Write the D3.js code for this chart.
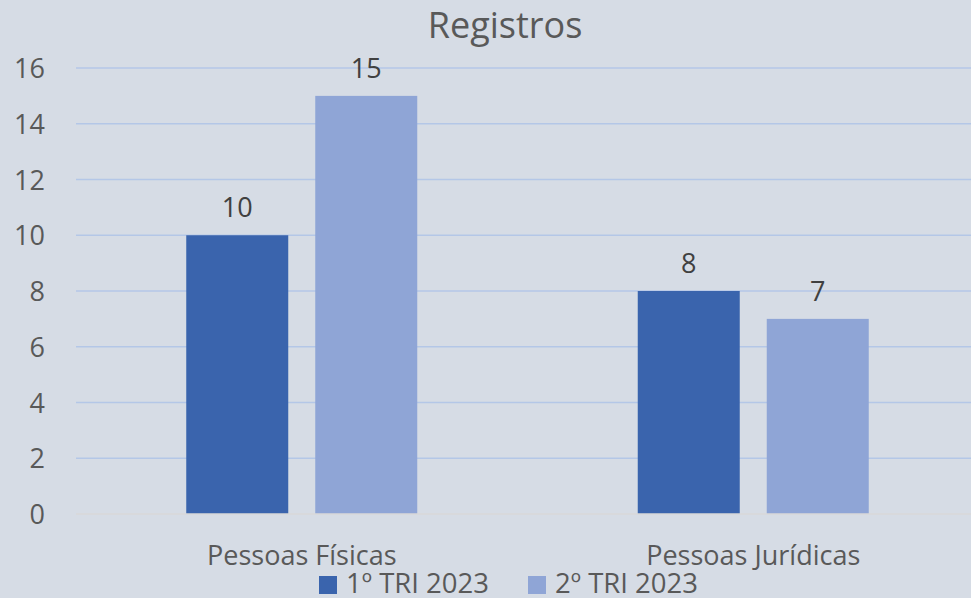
<!DOCTYPE html>
<html><head><meta charset="utf-8">
<script src="https://cdn.jsdelivr.net/npm/d3@7"></script>
<style>body{margin:0;background:#D6DCE5;} svg{display:block;}</style>
</head><body>
<svg id="c" width="971" height="598"></svg>
<script>
const categories = ["Pessoas Físicas", "Pessoas Jurídicas"];
const seriesNames = ["1º TRI 2023", "2º TRI 2023"];
const series1 = [10, 8];
const series2 = [15, 7];
const yTicks = [0, 2, 4, 6, 8, 10, 12, 14, 16];
const title = "Registros";
const colors = ["#3A64AD", "#8FA5D6"];

const font = "'Open Sans', sans-serif";
const svg = d3.select("#c");
svg.append("rect").attr("width", 971).attr("height", 598).attr("fill", "#D6DCE5");

const y = d3.scaleLinear().domain([0, 16]).range([514, 68]);
const x0 = d3.scaleBand().domain(categories).range([76, 979]).padding(0);
const groupW = 231;
const x1 = d3.scaleBand().domain(seriesNames)
  .range([(x0.bandwidth() - groupW) / 2, (x0.bandwidth() + groupW) / 2])
  .paddingInner(0.2093).paddingOuter(0);

// gridlines
svg.append("g").selectAll("line").data(yTicks.filter(d => d > 0)).join("line")
  .attr("x1", 76).attr("x2", 971).attr("y1", d => y(d)).attr("y2", d => y(d))
  .attr("stroke", "#B4C7E7").attr("stroke-width", 1.3);

// y axis labels
const yAxis = d3.axisLeft(y).tickValues(yTicks).tickSize(0).tickPadding(0);
const ya = svg.append("g").attr("transform", "translate(45,0)").call(yAxis);
ya.select(".domain").remove();
ya.selectAll("text").attr("font-family", font).attr("font-size", 27).attr("fill", "#595959")
  .attr("dy", "0.36em");

const data = categories.map((c, i) => ({ cat: c, vals: [series1[i], series2[i]] }));

const g = svg.append("g").selectAll("g").data(data).join("g")
  .attr("transform", d => `translate(${x0(d.cat)},0)`);
g.selectAll("rect").data(d => d.vals.map((v, j) => ({ s: seriesNames[j], v, j }))).join("rect")
  .attr("x", d => x1(d.s)).attr("width", x1.bandwidth())
  .attr("y", d => y(d.v)).attr("height", d => y(0) - y(d.v))
  .attr("fill", d => colors[d.j]);
g.selectAll("text").data(d => d.vals.map((v, j) => ({ s: seriesNames[j], v, j }))).join("text")
  .attr("x", d => x1(d.s) + x1.bandwidth() / 2).attr("y", d => y(d.v) - 18)
  .attr("text-anchor", "middle").attr("font-family", font).attr("font-size", 27)
  .attr("fill", "#404040").text(d => d.v);

// zero line
svg.append("line").attr("x1", 76).attr("x2", 971).attr("y1", y(0)).attr("y2", y(0))
  .attr("stroke", "#D9D9D9").attr("stroke-width", 1.3);

// x axis labels
const xAxis = d3.axisBottom(x0).tickSize(0).tickPadding(0);
const xa = svg.append("g").attr("transform", "translate(0,540)").call(xAxis);
xa.select(".domain").remove();
xa.selectAll("text").attr("font-family", font).attr("font-size", 27).attr("fill", "#595959")
  .attr("y", 25).attr("dy", null);

// title
svg.append("text").attr("x", 505).attr("y", 38).attr("text-anchor", "middle")
  .attr("font-family", font).attr("font-size", 36).attr("fill", "#595959").text(title);

// legend
const legX = [319, 528];
const lg = svg.append("g").selectAll("g").data(seriesNames).join("g")
  .attr("transform", (d, i) => `translate(${legX[i]},0)`);
lg.append("rect").attr("x", 0).attr("y", 576).attr("width", 18).attr("height", 18)
  .attr("fill", (d, i) => colors[i]);
lg.append("text").attr("x", 27).attr("y", 593).attr("font-family", font).attr("font-size", 27.5)
  .attr("fill", "#595959").text(d => d);
</script>
</body></html>
